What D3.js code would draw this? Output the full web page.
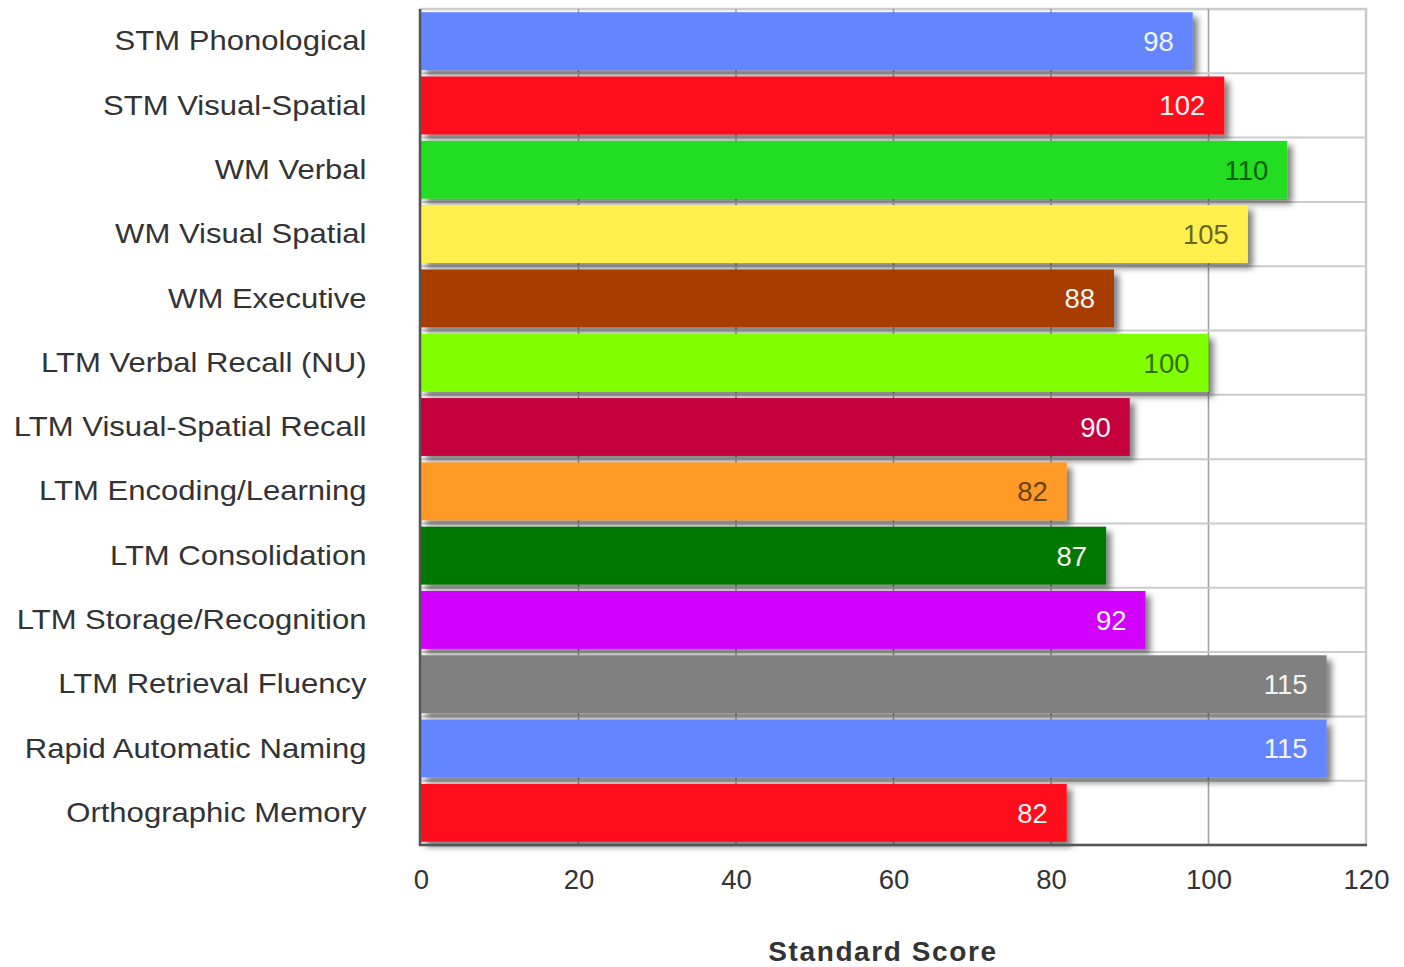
<!DOCTYPE html>
<html><head><meta charset="utf-8">
<script src="https://cdn.jsdelivr.net/npm/d3@7/dist/d3.min.js"></script>
<style>body{margin:0;background:#fff}svg{display:block}</style>
</head><body>
<svg id="c" width="1404" height="967"></svg>
<script>
const categories = ["STM Phonological","STM Visual-Spatial","WM Verbal","WM Visual Spatial","WM Executive","LTM Verbal Recall (NU)","LTM Visual-Spatial Recall","LTM Encoding/Learning","LTM Consolidation","LTM Storage/Recognition","LTM Retrieval Fluency","Rapid Automatic Naming","Orthographic Memory"];
const values = [98,102,110,105,88,100,90,82,87,92,115,115,82];
const colors = ["#6385ff","#ff0d1e","#22dd22","#fff04d","#a83d00","#7fff00","#c4003c","#ff9a28","#007800","#d200ff","#808080","#6385ff","#ff0d1e"];
const tickValues = [0,20,40,60,80,100,120];
const axisTitle = "Standard Score";

const svg = d3.select("#c");
const L = 421, R = 1366, T = 9, B = 845;
const x = d3.scaleLinear().domain([0,120]).range([L,R]);
const y = d3.scaleBand().domain(categories).range([T,B]).paddingInner(0.1).paddingOuter(0.05);

const defs = svg.append("defs");
const f = defs.append("filter").attr("id","sh").attr("x","-5%").attr("y","-20%").attr("width","115%").attr("height","160%");
f.append("feDropShadow").attr("dx",5).attr("dy",5).attr("stdDeviation",3).attr("flood-color","#000").attr("flood-opacity",0.5);

// plot frame
svg.append("rect").attr("x",L).attr("y",T).attr("width",R-L).attr("height",B-T).attr("fill","#fff").attr("stroke","#cccccc").attr("stroke-width",2.5);

// vertical grid
svg.append("g").selectAll("line").data(tickValues.filter(d=>d>0&&d<120)).join("line")
  .attr("x1",d=>x(d)).attr("x2",d=>x(d)).attr("y1",T).attr("y2",B)
  .attr("stroke","#a0a0a0").attr("stroke-width",1.6);

// horizontal grid at row boundaries
const bounds = d3.range(1,categories.length).map(i=>T + (B-T)/categories.length*i);
svg.append("g").selectAll("line").data(bounds).join("line")
  .attr("x1",L).attr("x2",R).attr("y1",d=>d).attr("y2",d=>d)
  .attr("stroke","#cccccc").attr("stroke-width",2);

// bars
svg.append("g").selectAll("rect").data(values).join("rect")
  .attr("x",x(0)).attr("y",(d,i)=>y(categories[i]))
  .attr("width",d=>x(d)-x(0)).attr("height",y.bandwidth())
  .attr("fill",(d,i)=>colors[i]).attr("filter","url(#sh)");

// value labels
function labelColor(c){
  const l = d3.lab(c).l;
  return l > 70 ? d3.color(c).darker(2.4).formatHex() : "#f4f4f4";
}
svg.append("g").selectAll("text").data(values).join("text")
  .attr("x",d=>x(d)-19).attr("y",(d,i)=>y(categories[i])+y.bandwidth()/2)
  .attr("dy","0.36em").attr("text-anchor","end")
  .attr("font-family","Liberation Sans, Arial, sans-serif").attr("font-size",27.5)
  .attr("fill",(d,i)=>labelColor(colors[i])).text(d=>d);

// axes lines
svg.append("line").attr("x1",L-1).attr("x2",L-1).attr("y1",T).attr("y2",B+1).attr("stroke","#555").attr("stroke-width",2.5);
svg.append("line").attr("x1",L-2).attr("x2",R+1).attr("y1",B).attr("y2",B).attr("stroke","#555").attr("stroke-width",2.5);

// x tick labels
const xa = svg.append("g").attr("transform",`translate(0,${B})`)
  .call(d3.axisBottom(x).tickValues(tickValues).tickSize(0).tickPadding(24));
xa.select(".domain").remove();
xa.selectAll("text").attr("font-family","Liberation Sans, Arial, sans-serif").attr("font-size",27.5).attr("fill","#333");

// category labels (slightly widened glyphs as in the reference)
const ya = svg.append("g").attr("transform",`translate(${L},0)`)
  .call(d3.axisLeft(y).tickSize(0).tickPadding(50));
ya.select(".domain").remove();
ya.selectAll("text").attr("font-family","Liberation Sans, Arial, sans-serif").attr("font-size",28.5)
  .attr("fill","#333").attr("transform","scale(1.09,1)");

// axis title
svg.append("text").attr("x",883).attr("y",961).attr("text-anchor","middle")
  .attr("font-family","Liberation Sans, Arial, sans-serif").attr("font-size",28).attr("font-weight","bold")
  .attr("letter-spacing",1.6).attr("fill","#333").text(axisTitle);
</script>
</body></html>
